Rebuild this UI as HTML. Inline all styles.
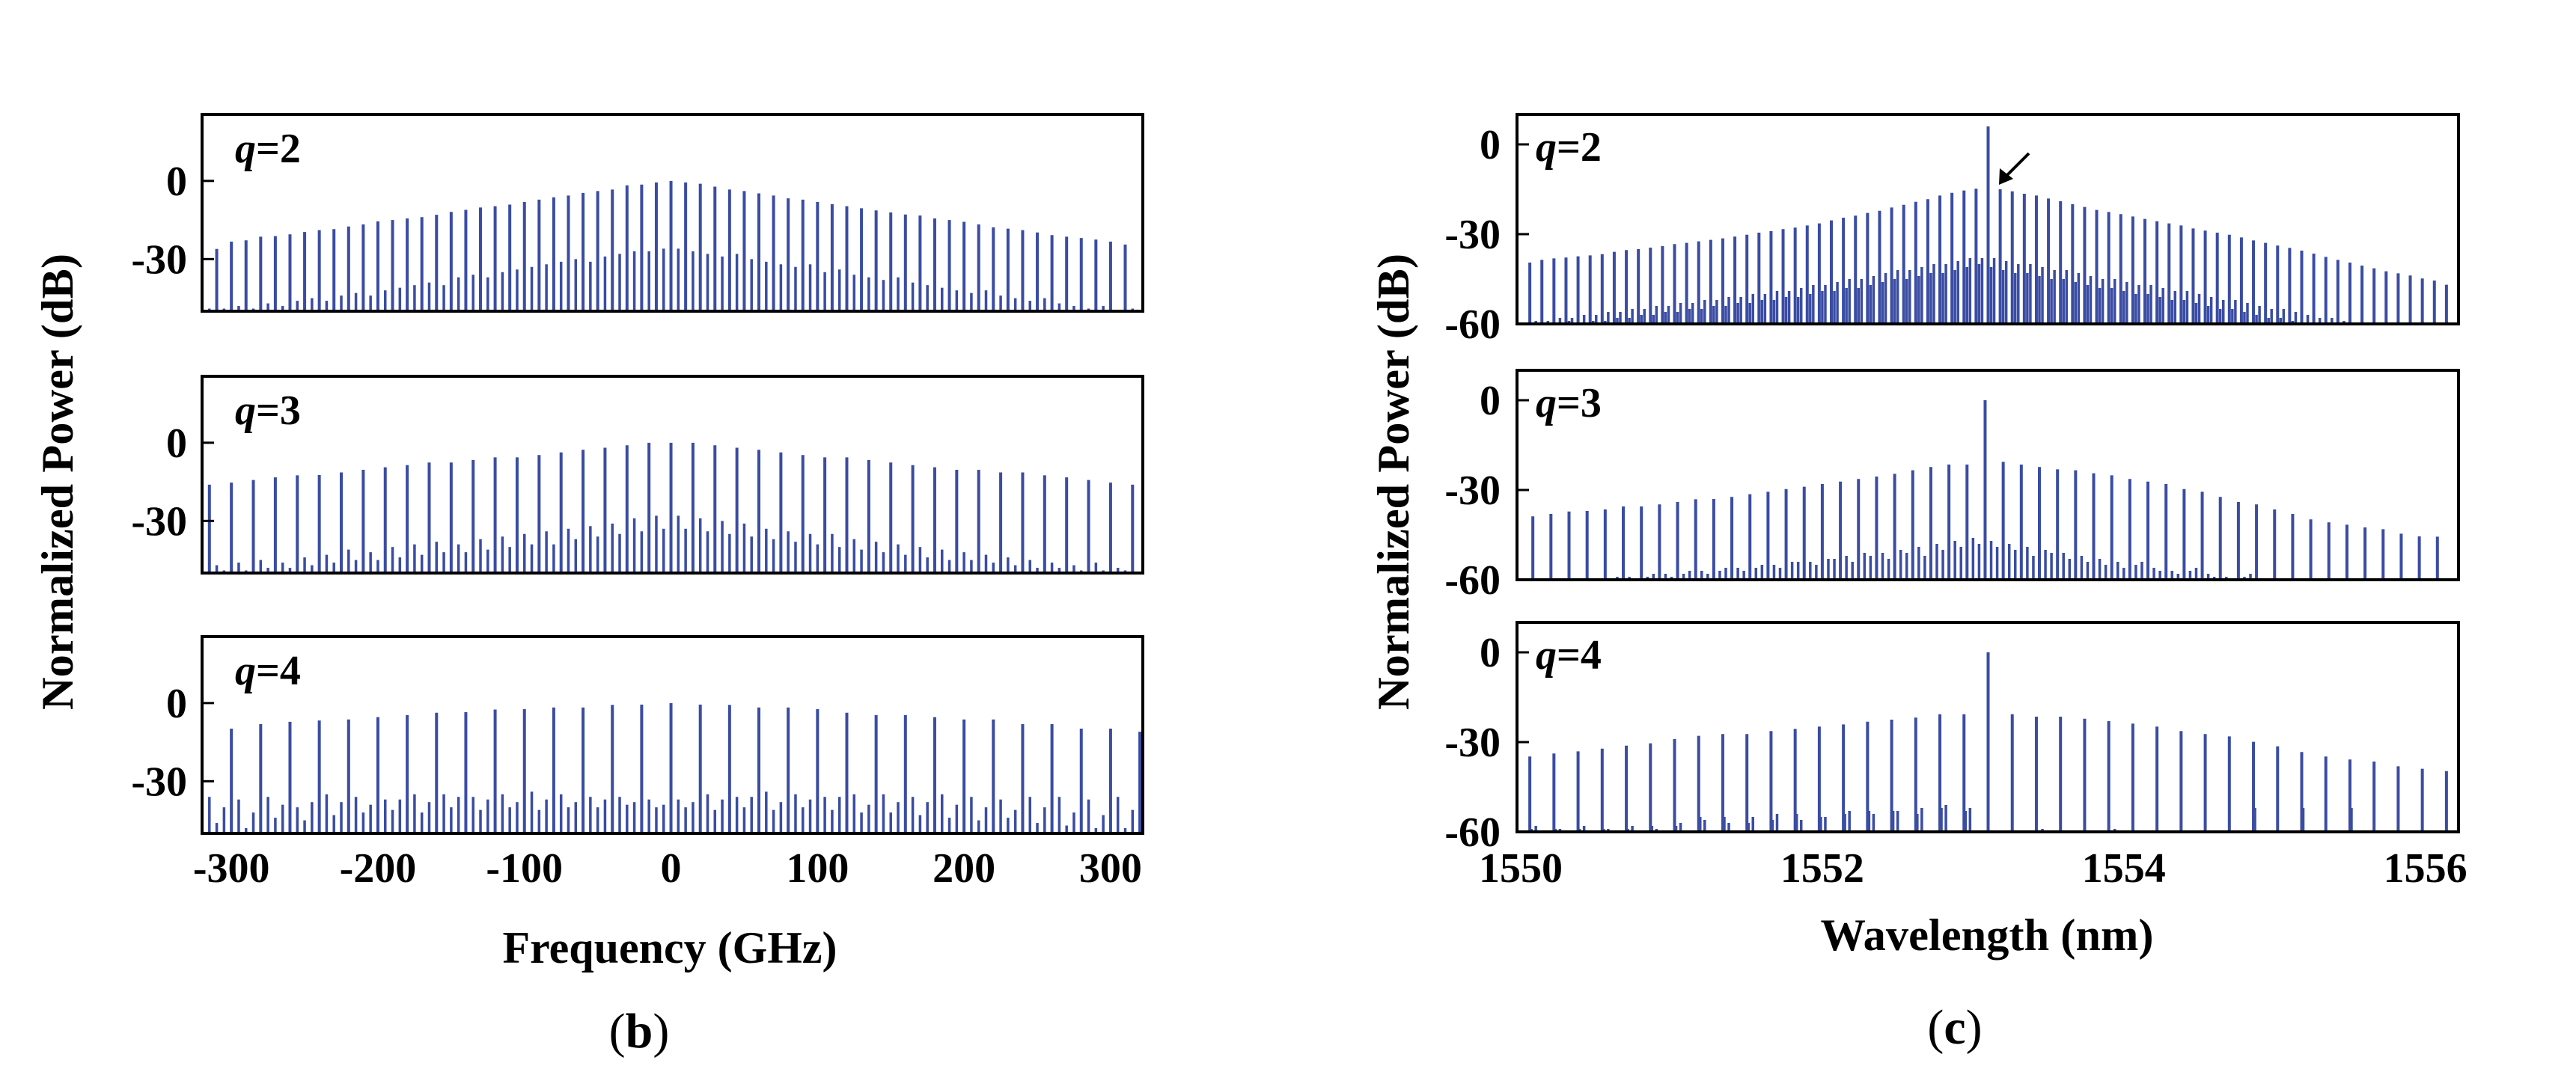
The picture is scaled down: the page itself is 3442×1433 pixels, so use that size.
<!DOCTYPE html>
<html><head><meta charset="utf-8">
<style>
html,body{margin:0;padding:0;background:#fff;}
svg{display:block;}
text{font-family:"Liberation Serif",serif;fill:#000;}
</style></head>
<body>
<svg id="fig" width="3442" height="1433" viewBox="0 0 3442 1433" xmlns="http://www.w3.org/2000/svg">
<rect width="3442" height="1433" fill="#fff"/>
<g id="root"></g>
</svg>
<script>
// ---------- Panel (b): frequency comb, tall lines + sub-lines (dB) ----------
const bQ2Tall = [-26.1,-23.3,-22.8,-21.4,-21.2,-20.5,-19.6,-18.9,-18.5,-17.5,-16.7,-15.5,-15,-14.4,-13.9,-13,-11.9,-11.1,-10.2,-9.7,-9.1,-8.1,-7.2,-6.3,-5.6,-4.6,-3.9,-3.3,-1.7,-1.4,-0.6,0,-0.6,-1.1,-2.2,-3.3,-3.9,-4.8,-5.6,-6.7,-7.2,-8.1,-8.9,-9.7,-10.5,-11.3,-12.1,-12.9,-13.3,-14.4,-15,-15.7,-16.7,-17.8,-18.3,-18.9,-19.8,-20.8,-21.4,-21.9,-22.5,-23.3,-24.4];
const bQ2Sub = [-49,-49,-48,-49,-47,-48,-46,-45,-46,-44,-43,-44,-42,-41,-40,-39,-40,-37,-36,-37,-35,-34,-33,-32,-31,-30,-31,-29,-28,-27,-27,-26,-26,-27,-28,-29,-28,-30,-31,-32,-33,-32,-35,-34,-36,-37,-38,-37,-39,-40,-41,-42,-43,-42,-44,-45,-46,-45,-47,-48,-49,-48,-50,-49];
const bQ3Tall = [-16.1,-15.3,-14.3,-13.3,-12.5,-12.4,-11.4,-10.4,-9.4,-8.6,-7.6,-7.6,-6.6,-5.6,-5.6,-4.7,-3.7,-2.7,-1.9,-1.0,0,0,0,-1,-1.9,-2.7,-3.7,-4.7,-5.6,-5.6,-6.6,-7.6,-8.6,-9.4,-10.4,-10.4,-11.4,-11.4,-12.5,-13.3,-14.3,-15.3,-16.1];
const bQ3SubA = [-47,-46,-45,-46,-44,-43,-41,-42,-40,-39,-38,-39,-37,-36,-35,-34,-33,-32,-31,-29,-28,-28,-29,-30,-31,-33,-34,-35,-35,-37,-38,-39,-40,-41,-42,-43,-44,-45,-46,-47,-46,-48];
const bQ3SubB = [-49,-49,-48,-48,-47,-46,-45,-45,-44,-43,-42,-42,-41,-40,-39,-39,-37,-36,-35,-34,-33,-33,-34,-35,-36,-37,-38,-39,-40,-41,-42,-43,-44,-45,-45,-46,-47,-48,-48,-49,-49,-49];
const bQ4Tall = [-11,-9.8,-8.1,-7.2,-6.7,-6.3,-5.4,-4.6,-3.7,-3.5,-2.5,-2.3,-1.7,-1.7,-0.7,-0.6,0,-0.6,-0.7,-1.7,-1.7,-2.3,-3.7,-4.6,-4.6,-5.4,-6.3,-6.3,-8.1,-8.1,-9.8,-9.8,-11];
const bQ4SubA = [-36,-37,-36,-40,-35,-36,-37,-35,-35,-36,-35,-34,-35,-36,-36,-37,-37,-35,-36,-34,-35,-36,-35,-35,-36,-35,-36,-37,-36,-36,-37,-36];
const bQ4SubB = [-46,-48,-44,-45,-43,-42,-41,-42,-40,-41,-40,-41,-40,-40,-39,-40,-40,-41,-40,-41,-40,-41,-42,-42,-43,-44,-45,-44,-46,-47,-48,-48];
const bQ4SubC = [-40,-42,-39,-38,-38,-39,-37,-38,-36,-37,-38,-37,-38,-37,-38,-39,-38,-37,-36,-38,-37,-36,-39,-38,-38,-39,-40,-41,-40,-42,-43,-41];
const bXTicks = [-300,-200,-100,0,100,200,300];
const bYTicks = [0,-30];

// ---------- Panel (c): optical spectrum (dB) ----------
const cQ2Tall = [-39.5,-38.6,-38.1,-37.8,-37.4,-37.1,-36.7,-35.9,-35.3,-35,-34.5,-34,-33.3,-32.9,-32.4,-31.9,-31.4,-30.8,-30.2,-29.5,-29,-28.3,-27.8,-27.1,-26.4,-25.4,-24.5,-23.8,-22.9,-22.2,-21.1,-20.2,-19.2,-18.3,-17.1,-16.2,-15.4,-14.8,6,-15,-15.7,-16.5,-17.1,-18.1,-19,-20,-20.9,-21.9,-22.6,-23.3,-24.1,-24.9,-25.7,-26.4,-27.1,-28.1,-28.8,-29.5,-30.2,-31.1,-32.1,-32.9,-33.8,-34.6,-35.5,-36.5,-37.6,-38.6,-39.5,-40.5,-41.4,-42.4,-43.1,-43.8,-44.8,-45.5,-46.9];
const cQ2Sub = [-59,-59,-58,-58,-57,-57,-56,-56,-55,-55,-54,-54,-53,-53,-52,-52,-51,-51,-50,-50,-49,-49,-48,-47,-47,-46,-45,-45,-44,-43,-42,-42,-41,-40,-40,-39,-38,-38,-38,-39,-40,-40,-41,-42,-42,-43,-44,-45,-45,-46,-47,-47,-48,-49,-49,-50,-51,-52,-52,-53,-54,-55,-55,-56,-57,-58,-58,-59,-60,-60,-60,-60,-60,-60,-60,-60];
const cQ2Sub2 = [-60,-60,-60,-59,-60,-59,-59,-58,-58,-57,-57,-56,-56,-55,-55,-54,-54,-53,-53,-52,-52,-51,-51,-50,-49,-49,-48,-48,-47,-46,-45,-45,-44,-43,-43,-42,-41,-40,-41,-42,-43,-43,-44,-45,-45,-46,-47,-48,-48,-49,-50,-50,-51,-52,-52,-53,-54,-55,-55,-56,-57,-58,-58,-59,-60,-60,-60,-60,-60,-60,-60,-60,-60,-60,-60,-60];
const cQ3Tall = [-38.8,-38,-37.2,-37,-36.5,-35.5,-35.5,-34.8,-34,-33.1,-33,-32.3,-31.4,-30.6,-29.7,-28.9,-28,-27.2,-26.3,-25.5,-24.6,-23.4,-22.3,-21.5,-21.5,0,-20.6,-21.5,-22.3,-23.1,-23.4,-24.4,-25.1,-26.3,-27.2,-28,-29.7,-30.6,-32.3,-34,-34.8,-36.5,-38,-39.8,-40.8,-41.6,-42.5,-43.1,-44.6,-45.5,-45.6];
const cQ3SubA = [-60,-60,-60,-60,-60,-59,-59,-58,-58,-57,-57,-56,-56,-55,-54,-54,-53,-52,-51,-51,-50,-49,-48,-47,-46,-47,-48,-49,-50,-51,-52,-53,-54,-55,-56,-57,-57,-58,-59,-59,-60,-60,-60,-60,-60,-60,-60,-60,-60,-60];
const cQ3SubB = [-60,-60,-60,-60,-59,-60,-58,-59,-57,-58,-56,-57,-55,-56,-54,-55,-53,-54,-52,-53,-51,-52,-50,-49,-48,-49,-50,-52,-51,-53,-54,-55,-56,-54,-57,-58,-56,-59,-60,-58,-60,-60,-60,-60,-60,-60,-60,-60,-60,-60];
const cQ4Tall = [-34.8,-33.8,-33.1,-32.2,-31.2,-30.4,-29,-27.9,-27.3,-27.3,-26.3,-25.6,-24.8,-24.1,-23.2,-22.5,-21.8,-20.7,-20.7,0,-20.7,-21.5,-21.5,-22.2,-23,-23.8,-24.8,-26.3,-27.3,-28.1,-29.9,-31.4,-33.3,-34.8,-35.8,-36.5,-38.1,-38.9,-39.7];
const cQ4SubA = [-58,-59,-58,-59,-58,-59,-57,-56,-57,-55,-54,-56,-55,-53,-54,-53,-52,-51,-52,-60,-60,-59,-60,-60,-59,-60,-60,-60,-60,-60,-60,-60,-60,-60,-60,-60,-60,-60];
const cQ4SubB = [-59,-59,-59,-59,-59,-58,-58,-55,-55,-57,-56,-54,-55,-54,-53,-53,-54,-52,-53,-60,-60,-60,-60,-60,-60,-60,-60,-60,-60,-60,-52,-60,-52,-60,-52,-60,-60,-60];
const cXTicks = [1550,1552,1554,1556];
const cYTicks = [0,-30,-60];

const NS = "http://www.w3.org/2000/svg";
const root = document.getElementById('root');
const BLUE = "#3a4ca3";
function mk(tag, attrs, parent){ const e=document.createElementNS(NS,tag); for(const k in attrs) e.setAttribute(k,attrs[k]); (parent||root).appendChild(e); return e; }

function makeAxes(x0,x1,xmin,xmax,y0,y1,ymin,ymax){
  return { sx: v => x0 + (v-xmin)/(xmax-xmin)*(x1-x0), sy: v => y1 - (v-ymin)/(ymax-ymin)*(y1-y0), x0,x1,y0,y1,ymin };
}
function drawLines(g, ax, start, step, offset, vals, w, name){
  vals.forEach((v,i)=>{
    const x = ax.sx(start + (i+offset)*step);
    if (x < ax.x0 || x > ax.x1) return;
    const l = mk('line',{x1:x,x2:x,y1:ax.sy(ax.ymin),y2:ax.sy(v),stroke:BLUE,'stroke-width':w},g);
    
    
  });
}
function panel(name){
  const g = mk('g',{});
  
  
  return g;
}
function frame(g, ax, yTicks, labelRight, qText, qx, qy){
  const r = mk('rect',{x:ax.x0,y:ax.y0,width:ax.x1-ax.x0,height:ax.y1-ax.y0,fill:'none',stroke:'#000','stroke-width':4},g);
  
  
  yTicks.forEach(t=>{
    const y = ax.sy(t);
    const tk = mk('line',{x1:ax.x0,x2:ax.x0+16,y1:y,y2:y,stroke:'#000','stroke-width':3},g);
    
    
    const tx = mk('text',{x:labelRight,y:y+19,'text-anchor':'end','font-size':56,'font-weight':'bold'},g);
    tx.textContent = t;
    
    
  });
  const q = mk('text',{x:qx,y:qy,'font-size':56,'font-weight':'bold'},g);
  q.innerHTML = '<tspan font-style="italic">q</tspan>' + qText;
  
  
}

// ---- panel (b) ----
const bX0=270,bX1=1527,bXmin=-320,bXmax=322,bYmin=-50,bYmax=25.5;
const bTops=[153,503,851], bH=263;
[ [bQ2Tall,[[bQ2Sub,-315,10]],-310,10,'=2'],
  [bQ3Tall,[[bQ3SubA,-310,15],[bQ3SubB,-305,15]],-315,15,'=3'],
  [bQ4Tall,[[bQ4SubA,-315,20],[bQ4SubB,-310,20],[bQ4SubC,-305,20]],-320,20,'=4'] ].forEach((p,i)=>{
  const ax = makeAxes(bX0,bX1,bXmin,bXmax,bTops[i],bTops[i]+bH,bYmin,bYmax);
  const g = panel('panel-b-q'+(i+2));
  p[1].forEach(s=>drawLines(g,ax,s[1],s[2],0,s[0],3.5,'sub-line'));
  drawLines(g,ax,p[2],p[3],0,p[0],4,'comb-line');
  frame(g,ax,bYTicks,250,p[4],314,bTops[i]+64);
  if(i===2){
    bXTicks.forEach(t=>{
      const tx = mk('text',{x:ax.sx(t),y:1179,'text-anchor':'middle','font-size':56,'font-weight':'bold'});
      tx.textContent = t;
      
      
    });
  }
});

// ---- panel (c) ----
const cX0=2027,cX1=3285,cXmin=1549.975,cXmax=1556.22,cYmin=-60,cYmax=10;
const cTops=[153,495,832], cH=280;
[ [cQ2Tall,[[cQ2Sub,1550.10,0.08],[cQ2Sub2,1550.08,0.08]],1550.06,0.08,'=2'],
  [cQ3Tall,[[cQ3SubA,1550.12,0.12],[cQ3SubB,1550.16,0.12]],1550.08,0.12,'=3'],
  [cQ4Tall,[[cQ4SubA,1550.10,0.16],[cQ4SubB,1550.07,0.16]],1550.06,0.16,'=4'] ].forEach((p,i)=>{
  const ax = makeAxes(cX0,cX1,cXmin,cXmax,cTops[i],cTops[i]+cH,cYmin,cYmax);
  const g = panel('panel-c-q'+(i+2));
  p[1].forEach(s=>drawLines(g,ax,s[1],s[2],0,s[0],3.5,'sub-line'));
  drawLines(g,ax,p[2],p[3],0,p[0],4,'spectral-line');
  frame(g,ax,cYTicks,2005,p[4],2052,cTops[i]+62);
  if(i===2){
    cXTicks.forEach(t=>{
      const tx = mk('text',{x:ax.sx(t),y:1179,'text-anchor':'middle','font-size':56,'font-weight':'bold'});
      tx.textContent = t;
      
      
    });
  }
});
</script>
<script>
const svg = document.getElementById('fig');
function T(name, attrs, txt){
  const e=document.createElementNS("http://www.w3.org/2000/svg",'text');
  for(const k in attrs) e.setAttribute(k,attrs[k]);
  e.textContent=txt;
  
  
  svg.appendChild(e);
  return e;
}
T('y-axis-title-b',{x:0,y:0,transform:'translate(97,644) rotate(-90)','text-anchor':'middle','font-size':60,'font-weight':'bold',textLength:610,lengthAdjust:'spacingAndGlyphs'},'Normalized Power (dB)');
T('y-axis-title-c',{x:0,y:0,transform:'translate(1882,644) rotate(-90)','text-anchor':'middle','font-size':60,'font-weight':'bold',textLength:610,lengthAdjust:'spacingAndGlyphs'},'Normalized Power (dB)');
T('x-axis-title-b',{x:895,y:1287,'text-anchor':'middle','font-size':60,'font-weight':'bold',textLength:447,lengthAdjust:'spacingAndGlyphs'},'Frequency (GHz)');
T('x-axis-title-c',{x:2655,y:1270,'text-anchor':'middle','font-size':60,'font-weight':'bold',textLength:445,lengthAdjust:'spacingAndGlyphs'},'Wavelength (nm)');
const b = T('caption-b',{x:854,y:1400,'text-anchor':'middle','font-size':66},'');
b.innerHTML='(<tspan font-weight="bold">b</tspan>)';
const c = T('caption-c',{x:2612,y:1395,'text-anchor':'middle','font-size':66},'');
c.innerHTML='(<tspan font-weight="bold">c</tspan>)';
const ar=document.createElementNS("http://www.w3.org/2000/svg",'g');


ar.innerHTML='<line x1="2711" y1="205" x2="2680" y2="236" stroke="#000" stroke-width="4"/><polygon points="2671,247 2672,225 2690,239" fill="#000"/>';
svg.appendChild(ar);
</script>
</body></html>
